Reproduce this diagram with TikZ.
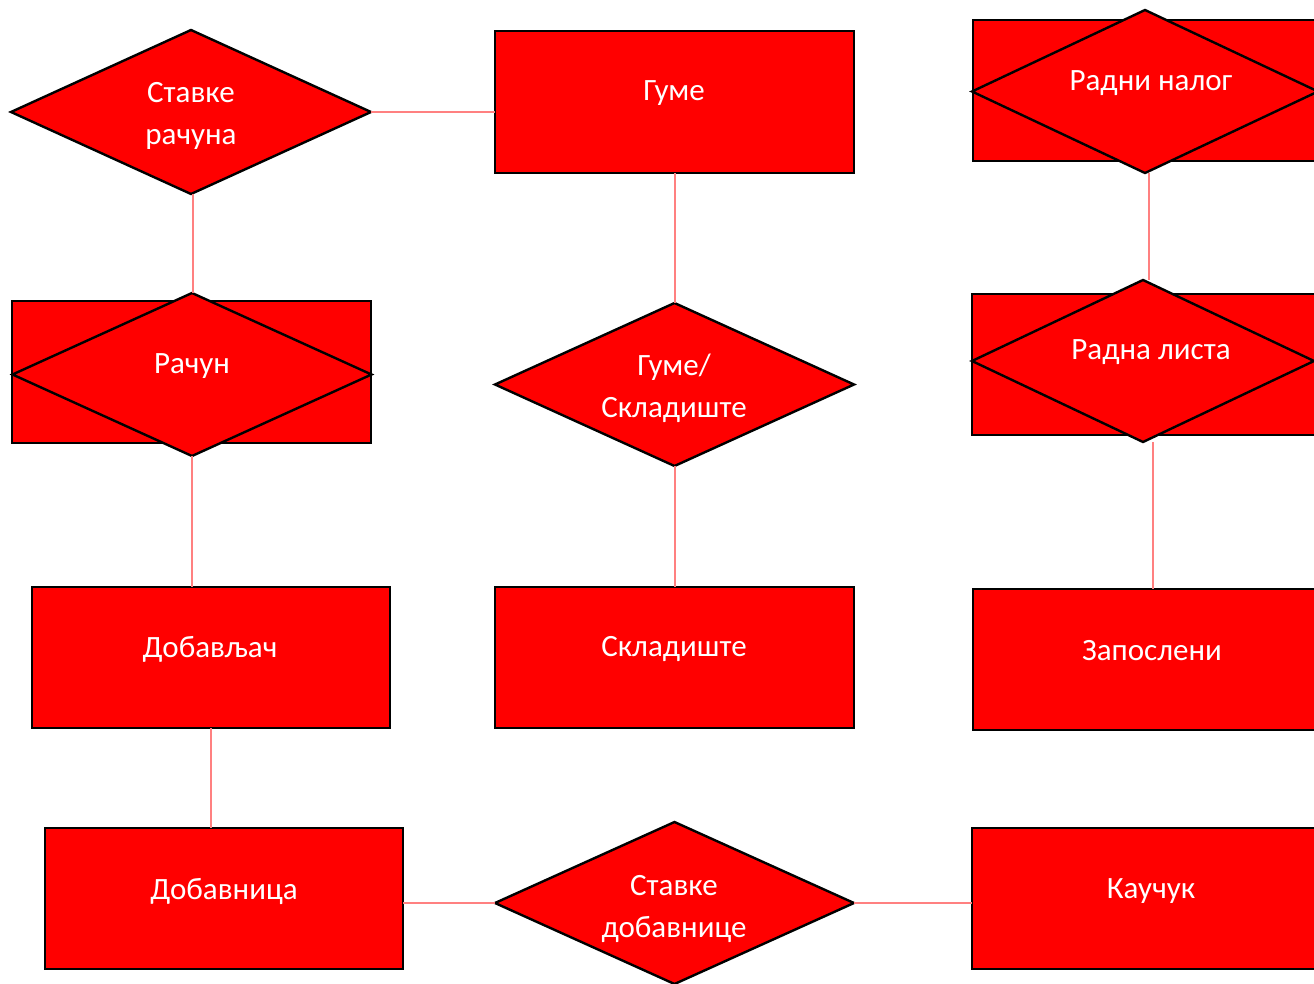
\documentclass[tikz,border=0pt]{standalone}
\usepackage{fontspec}
\setmainfont{Carlito}
\usetikzlibrary{shapes.geometric}
\definecolor{erred}{HTML}{FF0000}
\definecolor{linkred}{HTML}{FF8080}
\tikzset{
  ent/.style={draw=black, line width=2.4pt, fill=erred, rectangle, inner sep=0pt, outer sep=0pt, minimum width=359pt, minimum height=142pt},
  rel/.style={draw=black, line width=2.4pt, fill=erred, diamond, inner sep=0pt, outer sep=0pt},
  lbl/.style={text=white, font=\fontsize{31}{42}\selectfont, align=center, inner sep=0pt},
  link/.style={draw=linkred, line width=2pt}
}
\begin{document}
\begin{tikzpicture}[x=1pt,y=-1pt]
\useasboundingbox (0,0) rectangle (1314,984);
\clip (0,0) rectangle (1314,984);
% shapes
\node[rel, minimum width=360pt, minimum height=164pt] (sr) at (191,112) {};
\node[ent] (guma) at (674.5,102) {};
\node[ent, minimum width=360pt, minimum height=141pt] (rnR) at (1153,90.5) {};
\node[rel, minimum width=346pt, minimum height=163pt] (rnD) at (1145,91.5) {};
\node[ent] (racR) at (191.5,372) {};
\node[rel, minimum width=359pt, minimum height=163pt] (racD) at (192,374.5) {};
\node[rel, minimum width=359pt, minimum height=163pt] (gs) at (674.5,384.5) {};
\node[ent, minimum width=360pt, minimum height=141pt] (rlR) at (1152,364.5) {};
\node[rel, minimum width=342pt, minimum height=162pt] (rlD) at (1143,361) {};
\node[ent, minimum width=358pt, minimum height=141pt] (dob) at (211,657.5) {};
\node[ent, minimum height=141pt] (skl) at (674.5,657.5) {};
\node[ent, minimum width=360pt, minimum height=141pt] (zap) at (1153,659.5) {};
\node[ent, minimum width=358pt, minimum height=141pt] (dbn) at (224,898.5) {};
\node[rel, minimum width=359pt, minimum height=162pt] (sd) at (674.5,903) {};
\node[ent, minimum width=360pt, minimum height=141pt] (kau) at (1152,898.5) {};
% connectors
\draw[link] (sr.east) -- (sr.east -| guma.west);
\draw[link] ([xshift=2pt]sr.south) -- ([xshift=2pt]sr.south |- racD.north);
\draw[link] (guma.south) -- (guma.south |- gs.north);
\draw[link] ([xshift=4pt]rnD.south) -- ([xshift=4pt]rnD.south |- rlD.north);
\draw[link] (racD.south) -- (racD.south |- dob.north);
\draw[link] (gs.south) -- (gs.south |- skl.north);
\draw[link] (rlD.south -| zap.north) -- (zap.north);
\draw[link] (dob.south) -- (dob.south |- dbn.north);
\draw[link] (dbn.east |- sd.west) -- (sd.west);
\draw[link] (sd.east) -- (sd.east -| kau.west);
% labels
\node[lbl] (t1) at (191,116) {Ставке\\рачуна};
\node[lbl] (t2) at (674,93) {Гуме};
\node[lbl] (t3) at (1151,83) {Радни налог};
\node[lbl] (t4) at (192,366) {Рачун};
\node[lbl] (t5) at (674,388) {Гуме/\\Складиште};
\node[lbl] (t6) at (1151,352) {Радна листа};
\node[lbl] (t7) at (210,649) {Добављач};
\node[lbl] (t8) at (674,649) {Складиште};
\node[lbl] (t9) at (1152,651) {Запослени};
\node[lbl] (t10) at (224,891) {Добавница};
\node[lbl] (t11) at (674,909) {Ставке\\добавнице};
\node[lbl] (t12) at (1151,891) {Каучук};
\end{tikzpicture}
\end{document}
